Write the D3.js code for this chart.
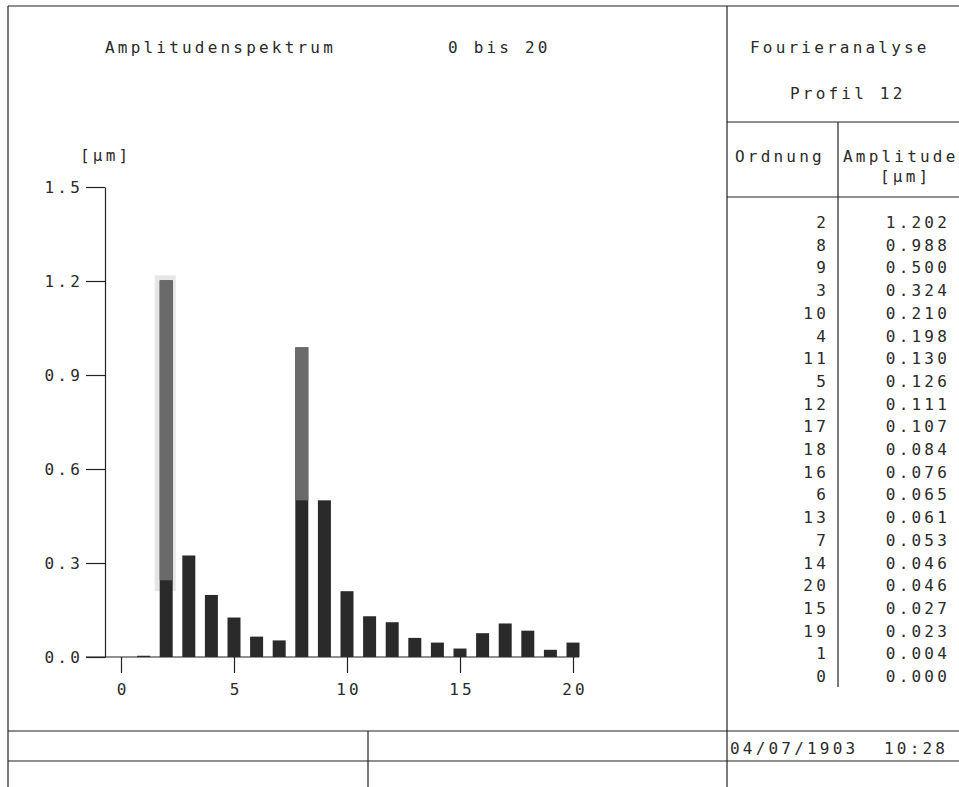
<!DOCTYPE html>
<html>
<head>
<meta charset="utf-8">
<script src="https://cdn.jsdelivr.net/npm/d3@7"></script>
<style>
  body { margin: 0; background: #fff; }
  text { font-family: "DejaVu Sans Mono", monospace; font-size: 16px; fill: #2a2a2a; letter-spacing: 3.2px; white-space: pre; }
</style>
</head>
<body>
<div id="chart"></div>
<script>
// table order (sorted by amplitude, as printed)
var orders = [2, 8, 9, 3, 10, 4, 11, 5, 12, 17, 18, 16, 6, 13, 7, 14, 20, 15, 19, 1, 0];
var amplitudes = [1.202, 0.988, 0.500, 0.324, 0.210, 0.198, 0.130, 0.126, 0.111, 0.107, 0.084,
                  0.076, 0.065, 0.061, 0.053, 0.046, 0.046, 0.027, 0.023, 0.004, 0.000];
var yTicks = [0, 0.3, 0.6, 0.9, 1.2, 1.5];
var xTicks = [0, 5, 10, 15, 20];
// faded (grey) upper part of the two tallest bars, from value up to top
var fadeOrders = [2, 8];
var fadeFrom = [0.245, 0.5];

var W = 959, H = 787;
var svg = d3.select("#chart").append("svg")
    .attr("width", W)
    .attr("height", H);

var data = orders.map(function (o, i) { return {order: o, amp: amplitudes[i]}; });

var x = d3.scaleLinear().domain([0, 20]).range([121, 573]);
var y = d3.scaleLinear().domain([0, 1.5]).range([657, 187]);

// frame
var ink = "#222";
function line(x1, y1, x2, y2) {
    svg.append("line")
        .attr("x1", x1).attr("y1", y1).attr("x2", x2).attr("y2", y2)
        .attr("stroke", ink).attr("stroke-width", 1.2);
}
line(8, 6, 959, 6);
line(8, 6, 8, 787);
line(727, 6, 727, 787);
line(727, 122, 959, 122);
line(727, 197, 959, 197);
line(838, 122, 838, 687);
line(8, 731, 959, 731);
line(8, 761, 959, 761);
line(368, 731, 368, 787);

// titles
svg.append("text").attr("x", 105).attr("y", 53).text("Amplitudenspektrum");
svg.append("text").attr("x", 448).attr("y", 53).text("0 bis 20");
svg.append("text").attr("x", 750).attr("y", 53).text("Fourieranalyse");
svg.append("text").attr("x", 790).attr("y", 99).text("Profil 12");

// y unit
svg.append("text").attr("x", 80).attr("y", 161).text("[μm]");

// y axis
var yAxis = svg.append("g")
    .attr("transform", "translate(105,0)")
    .call(d3.axisLeft(y).tickValues(yTicks).tickSize(19).tickSizeOuter(0).tickPadding(3)
        .tickFormat(d3.format(".1f")));
yAxis.select(".domain").attr("stroke", ink).attr("stroke-width", 1.2);
yAxis.selectAll(".tick line").attr("stroke", ink).attr("stroke-width", 1.2);
yAxis.selectAll("text").attr("font-family", null).attr("font-size", null).attr("fill", null);

// x axis
var xAxis = svg.append("g")
    .attr("transform", "translate(0,657)")
    .call(d3.axisBottom(x).tickValues(xTicks).tickSize(16).tickSizeOuter(0).tickPadding(11));
xAxis.select(".domain").remove();
xAxis.selectAll(".tick line").attr("stroke", ink).attr("stroke-width", 1.2);
xAxis.selectAll("text").attr("font-family", null).attr("font-size", null).attr("fill", null)
    .attr("dx", "1.6px");

var bw = 13;
var fades = fadeOrders.map(function (o, i) {
    return {order: o, from: fadeFrom[i], top: amplitudes[orders.indexOf(o)]};
});

// light halo behind the tallest bar (scan artefact)
svg.append("g").selectAll("rect")
    .data(fades.slice(0, 1))
    .enter()
    .append("rect")
    .attr("x", function (d) { return x(d.order) - bw / 2 - 5; })
    .attr("width", bw + 8)
    .attr("y", function (d) { return y(d.top) - 5; })
    .attr("height", function (d) { return y(d.from - 0.035) - y(d.top) + 5; })
    .attr("fill", "#e6e6e6");

svg.append("line")
    .attr("x1", 86).attr("x2", x(20) + 6)
    .attr("y1", y(0)).attr("y2", y(0))
    .attr("stroke", ink).attr("stroke-width", 1.2);

// bars
svg.append("g").selectAll("rect")
    .data(data)
    .enter()
    .append("rect")
    .attr("x", function (d) { return x(d.order) - bw / 2; })
    .attr("width", bw)
    .attr("y", function (d) { return y(d.amp); })
    .attr("height", function (d) { return y(0) - y(d.amp); })
    .attr("fill", "#2a2a2a");

// faded upper parts
svg.append("g").selectAll("rect")
    .data(fades)
    .enter()
    .append("rect")
    .attr("x", function (d) { return x(d.order) - bw / 2; })
    .attr("width", bw)
    .attr("y", function (d) { return y(d.top); })
    .attr("height", function (d) { return y(d.from) - y(d.top); })
    .attr("fill", "#6a6a6a");

// table
var row = d3.scaleLinear().domain([0, orders.length - 1]).range([228, 682]);
svg.append("text").attr("x", 735).attr("y", 162).text("Ordnung");
svg.append("text").attr("x", 843).attr("y", 162).text("Amplitude");
svg.append("text").attr("x", 880).attr("y", 182).text("[μm]");

var rows = svg.append("g").selectAll("g")
    .data(data)
    .enter()
    .append("g")
    .attr("transform", function (d, i) { return "translate(0," + row(i) + ")"; });
rows.append("text")
    .attr("x", 829)
    .attr("text-anchor", "end")
    .text(function (d) { return d.order; });
rows.append("text")
    .attr("x", 950)
    .attr("text-anchor", "end")
    .text(function (d) { return d.amp.toFixed(3); });

// date row
svg.append("text").attr("x", 730).attr("y", 754).text("04/07/1903  10:28");
</script>
</body>
</html>
